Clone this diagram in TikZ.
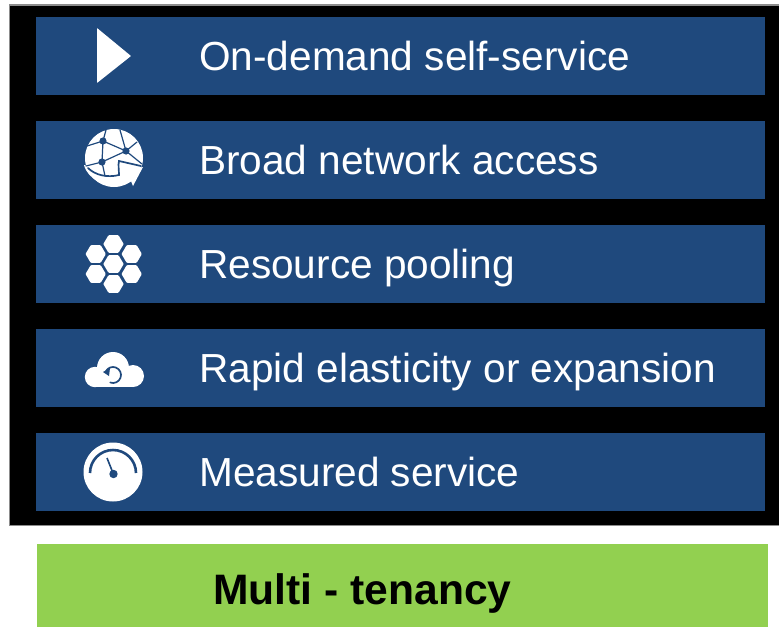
\documentclass[tikz,border=0pt]{standalone}
\usepackage{fontspec}
\setmainfont{Liberation Sans}
\definecolor{barblue}{HTML}{1F497D}
\definecolor{tenancygreen}{HTML}{92D050}
\tikzset{
  x=1pt,y=-1pt,
  barbox/.style={fill=barblue,draw=none},
  bartext/.style={anchor=base west,inner sep=0pt,text=white,font=\fontsize{40.6}{44}\selectfont},
  iconfill/.style={fill=white,draw=none},
  iconline/.style={draw=barblue,line width=1.6pt,line cap=round},
  hexcell/.style={fill=white,draw=none,rounded corners=0.8pt}
}
\newcommand{\hexat}[2]{\fill[hexcell] (#1-10.2,#2) -- (#1-5,#2-8.8) -- (#1+5,#2-8.8) -- (#1+10.2,#2) -- (#1+5,#2+8.8) -- (#1-5,#2+8.8) -- cycle;}
\begin{document}
\begin{tikzpicture}
\useasboundingbox (0,0) rectangle (779,627);
\fill[white] (0,0) rectangle (779,627);
\fill[black!45] (8.5,4) rectangle (779,526);
\fill[black] (10,5.5) rectangle (779,525);
\fill[barbox] (36,17) rectangle (765,95);
\fill[barbox] (36,121) rectangle (765,199);
\fill[barbox] (36,225) rectangle (765,303);
\fill[barbox] (36,329) rectangle (765,407);
\fill[barbox] (36,433) rectangle (765,511);
\fill[tenancygreen] (37,544) rectangle (768,627);
\node[bartext] (t1) at (199,70.5) {On-demand self-service};
\node[bartext] (t2) at (199,174.5) {Broad network access};
\node[bartext] (t3) at (199,278.5) {Resource pooling};
\node[bartext] (t4) at (199,382.5) {Rapid elasticity or expansion};
\node[bartext] (t5) at (199,486.5) {Measured service};
\node[anchor=base west,inner sep=0pt,text=black,font=\fontsize{42.6}{46}\selectfont\bfseries] (t6) at (213,604) {Multi - tenancy};
% play
\fill[iconfill,rounded corners=0.5pt] (97,28) -- (131,56) -- (97,83) -- cycle;
% globe
\fill[iconfill] (114,158) circle (29);
\fill[iconfill] (84,165) .. controls (88,180) and (105,187) .. (124,184) -- (131,181) -- (133,186) -- (143,167) -- (122,172) -- (125,176) -- cycle;
\draw[iconline,line width=1.2pt] (87,146) -- (103,141) -- (126,151) -- (142,164);
\draw[iconline,line width=1.2pt] (103,141) -- (106,130);
\draw[iconline,line width=1.2pt] (103,141) -- (102,162) -- (126,151);
\draw[iconline,line width=1.2pt] (126,151) -- (137,142);
\draw[iconline,line width=1.2pt] (126,151) -- (120,130);
\draw[iconline,line width=1.2pt] (102,162) -- (86,166);
\draw[iconline,line width=1.2pt] (102,162) -- (105,176);
\draw[iconline,line width=1.7pt] (88,168) .. controls (95,175) and (107,178) .. (119,175) .. controls (119,170) and (118,165) .. (119,161) -- (141,166);
\fill[barblue] (103,141) circle (3.6) (126,151) circle (3.6) (102,162) circle (3.6);
% hexes
\hexat{113.5}{264}\hexat{113.5}{244}\hexat{113.5}{284}
\hexat{95.7}{254}\hexat{131.7}{254}\hexat{95.7}{274}\hexat{131.7}{274}
% cloud
\fill[iconfill] (113,368) circle (16) (95,377) circle (10.2) (133,376) circle (11);
\fill[iconfill] (95,372) rectangle (133,387.2);
\draw[iconline,line width=1.7pt] ([shift={(113,375)}]110:8) arc[start angle=110,end angle=-150,radius=8];
\fill[barblue] (103,372) -- (110,368) -- (109,376) -- cycle;
% gauge
\fill[iconfill] (113,472) circle (29.5);
\draw[draw=barblue,line width=2.6pt] (90,473) arc[start angle=180,end angle=360,radius=23];
\draw[draw=barblue,line width=1.6pt] (107,458) -- (113,473);
\fill[barblue] (113.5,474) circle (4.2);
\end{tikzpicture}
\end{document}
